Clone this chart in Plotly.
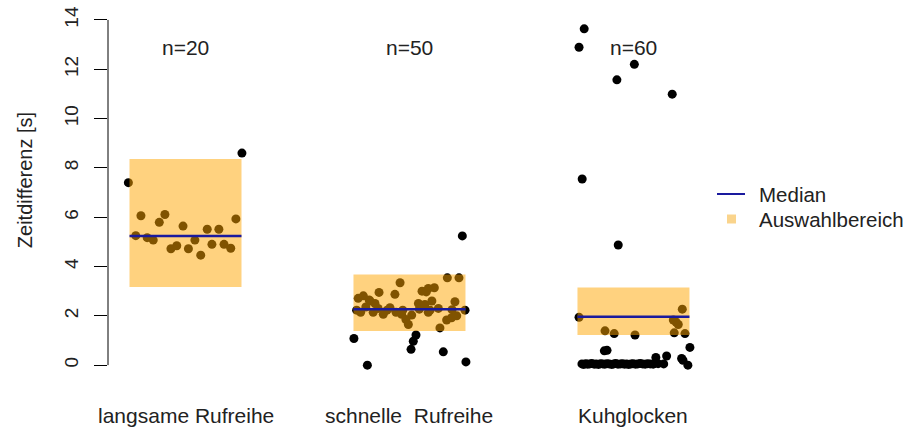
import plotly.graph_objects as go

categories = ["langsame Rufreihe", "schnelle\u00a0\u00a0Rufreihe", "Kuhglocken"]
n_labels = ["n=20", "n=50", "n=60"]
medians = [5.24, 2.27, 1.96]
sel_low = [3.17, 1.38, 1.22]
sel_high = [8.36, 3.68, 3.15]
half_width = 0.25
legend_names = ["Median", "Auswahlbereich"]

g1_jitter = [-0.255, -0.199, -0.092, -0.117, -0.011, 0.225, -0.222, -0.171, -0.144, -0.065,
             -0.039, 0.013, 0.042, 0.068, 0.097, 0.118, 0.149, 0.172, 0.202, 0.252]
g1_values = [7.40, 6.06, 6.11, 5.79, 5.64, 5.93, 5.25, 5.17, 5.07, 4.72,
             4.84, 4.72, 5.07, 4.46, 5.51, 4.90, 5.51, 4.90, 4.74, 8.60]

g2_jitter = [0.236, 0.169, 0.221, -0.042, -0.136, -0.065, 0.056, 0.084, 0.111, -0.229,
             -0.206, -0.176, -0.154, 0.203, 0.069, -0.236, -0.218, -0.162, -0.117, -0.087,
             -0.060, -0.035, -0.016, -0.005, 0.044, 0.084, 0.129, 0.166, 0.188, 0.211,
             0.136, 0.248, -0.248, 0.029, 0.017, 0.007, 0.151, -0.188, 0.252,
             -0.180, -0.140, -0.100, -0.030, 0.010, 0.040, 0.092, 0.100, 0.190, 0.075, -0.195]
g2_values = [5.24, 3.54, 3.54, 3.34, 2.95, 2.87, 3.00, 3.11, 3.14, 2.71,
             2.81, 2.60, 2.50, 2.57, 2.46, 2.23, 2.14, 2.14, 2.06, 2.33,
             2.14, 2.06, 1.85, 1.65, 2.27, 2.14, 2.30, 1.83, 1.92, 2.00,
             1.51, 2.23, 1.08, 1.22, 0.97, 0.64, 0.54, 0.00, 0.13,
             2.64, 2.30, 2.23, 2.23, 2.03, 2.50, 2.23, 2.60, 2.25, 2.97, 2.36]

g3_jitter = [-0.220, -0.243, 0.004, -0.074, 0.173, -0.229, -0.068, -0.243, 0.218, 0.178,
             0.200, 0.190, -0.127, -0.086, 0.007, 0.182, 0.230, -0.130, -0.118, 0.252,
             0.215, 0.100, 0.148, 0.221, 0.243,
             -0.230, -0.222, -0.213, -0.205, -0.196, -0.186, -0.175, -0.166, -0.156, -0.147,
             -0.137, -0.128, -0.118, -0.108, -0.097, -0.088, -0.079, -0.069, -0.058, -0.049,
             -0.040, -0.030, -0.021, -0.011, -0.002, 0.009, 0.019, 0.030, 0.041, 0.052,
             0.063, 0.075, 0.088, 0.110, 0.135]
g3_values = [13.64, 12.89, 12.20, 11.57, 10.99, 7.55, 4.87, 1.94, 2.27, 1.83,
             1.65, 1.75, 1.39, 1.28, 1.22, 1.31, 1.28, 0.58, 0.60, 0.72,
             0.27, 0.31, 0.37, 0.20, 0.00,
             0.05, 0.03, 0.06, 0.04, 0.05, 0.07, 0.04, 0.05, 0.03, 0.06,
             0.05, 0.04, 0.06, 0.05, 0.03, 0.05, 0.07, 0.04, 0.05, 0.06,
             0.04, 0.05, 0.03, 0.05, 0.06, 0.04, 0.05, 0.07, 0.05, 0.04,
             0.06, 0.05, 0.04, 0.06, 0.05]

y_ticks = [0, 2, 4, 6, 8, 10, 12, 14]

FONT = "Liberation Sans, Arial, sans-serif"
TXT = "#222222"
MEDIAN_COLOR = "#1a1a9e"
SEL_FILL = "rgba(255,165,0,0.5)"
LEG_SWATCH = "rgb(250,212,140)"

W, H = 911, 432
ML, MR, MT, MB = 108, 209, 15, 57
PW, PH = W - ML - MR, H - MT - MB


def px_x(px):  # pixel -> paper x
    return (px - ML) / PW


def px_y(py):  # pixel -> paper y
    return (H - MB - py) / PH


groups = [(g1_jitter, g1_values), (g2_jitter, g2_values), (g3_jitter, g3_values)]
xs, ys = [], []
for i, (jit, vals) in enumerate(groups):
    center = i + 1
    xs += [center + j for j in jit]
    ys += vals

fig = go.Figure()
fig.add_trace(go.Scatter(x=xs, y=ys, mode="markers",
                         marker=dict(color="black", size=9),
                         showlegend=False, hoverinfo="skip"))

for i in range(3):
    c = i + 1
    fig.add_shape(type="rect", xref="x", yref="y", x0=c - half_width, x1=c + half_width,
                  y0=sel_low[i], y1=sel_high[i], fillcolor=SEL_FILL, line=dict(width=0),
                  layer="above")
for i in range(3):
    c = i + 1
    fig.add_shape(type="line", xref="x", yref="y", x0=c - half_width, x1=c + half_width,
                  y0=medians[i], y1=medians[i], line=dict(color=MEDIAN_COLOR, width=2.5),
                  layer="above")
    fig.add_annotation(x=c, y=12.9, xref="x", yref="y", text=n_labels[i], showarrow=False,
                       font=dict(size=21, color=TXT, family=FONT))
    fig.add_annotation(x=c, y=0, xref="x", yref="paper", yshift=-40, text=categories[i],
                       showarrow=False, yanchor="middle",
                       font=dict(size=21, color=TXT, family=FONT))

# R-style y axis line from first to last tick
fig.add_shape(type="line", xref="paper", yref="y", x0=0, x1=0, y0=y_ticks[0], y1=y_ticks[-1],
              line=dict(color="black", width=1))

fig.add_annotation(x=px_x(25), xref="paper", xanchor="center", y=7.5, yref="y",
                   text="Zeitdifferenz [s]", textangle=-90, showarrow=False,
                   font=dict(size=20, color=TXT, family=FONT))

# legend (R-style, drawn manually)
fig.add_shape(type="line", xref="paper", yref="paper", x0=px_x(717), x1=px_x(745),
              y0=px_y(194), y1=px_y(194), line=dict(color=MEDIAN_COLOR, width=2))
fig.add_shape(type="rect", xref="paper", yref="paper", x0=px_x(727), x1=px_x(736),
              y0=px_y(214.5), y1=px_y(223.5), fillcolor=LEG_SWATCH, line=dict(width=0))
for name, py in zip(legend_names, [194, 219]):
    fig.add_annotation(x=px_x(757), y=px_y(py), xref="paper", yref="paper", xanchor="left",
                       yanchor="middle", text=name, showarrow=False,
                       font=dict(size=20.5, color=TXT, family=FONT))

fig.update_layout(
    width=W, height=H,
    margin=dict(l=ML, r=MR, t=MT, b=MB, autoexpand=False),
    plot_bgcolor="white", paper_bgcolor="white",
    font=dict(family=FONT, color=TXT),
    xaxis=dict(range=[0.654, 3.306], showgrid=False, zeroline=False, showticklabels=False,
               showline=False, ticks="", automargin=False),
    yaxis=dict(range=[-0.4, 14.2], showgrid=False, zeroline=False, showline=False,
               tickvals=y_ticks, ticks="outside", ticklen=13, tickcolor="black", tickwidth=1,
               tickangle=-90, tickfont=dict(size=19, color=TXT, family=FONT),
               ticklabelstandoff=8, automargin=False),
    showlegend=False,
)

fig.write_html("out.html", config={"displayModeBar": False},
               post_script="document.body.style.margin='0';")
